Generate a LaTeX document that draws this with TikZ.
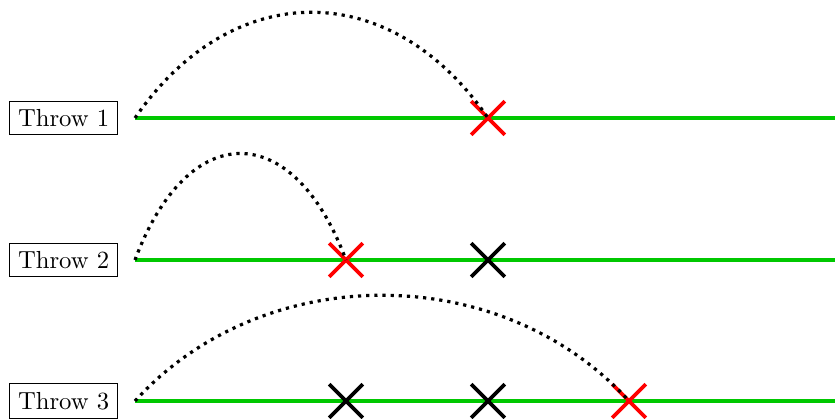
\documentclass[tikz,border=0pt]{standalone}
\usetikzlibrary{shapes.misc}
\definecolor{trackgreen}{RGB}{0,200,0}
\begin{document}
\begin{tikzpicture}[x=0.405pt,y=-0.405pt,
  track/.style={draw=trackgreen,line width=1.35pt},
  crossmark/.style={cross out,draw,line width=1.5pt,minimum size=12.15pt,inner sep=0pt},
  hit/.style={crossmark,draw=red},
  miss/.style={crossmark,draw=black},
  flight/.style={dotted,line width=1.3pt},
  throwtag/.style={draw,line width=0.4pt,inner sep=3.33pt,anchor=east}]
\useasboundingbox (0,0) rectangle (835,419);
% Throw 1
\coordinate (s1) at (135,118);
\coordinate (e1) at (835,118);
\node[throwtag] (t1) at (118,118) {Throw 1};
\draw[track] (s1) -- (e1);
\node[hit] (h1) at (488,118) {};
\draw[flight] (s1) .. controls +(97,-141) and +(-97,-141) .. (h1.center);
% Throw 2
\coordinate (s2) at (135,260);
\coordinate (e2) at (835,260);
\node[throwtag] (t2) at (118,260) {Throw 2};
\draw[track] (s2) -- (e2);
\node[hit] (h2) at (346,260) {};
\node[miss] (m21) at (488,260) {};
\draw[flight] (s2) .. controls +(53,-142) and +(-53,-142) .. (h2.center);
% Throw 3
\coordinate (s3) at (135,401);
\coordinate (e3) at (835,401);
\node[throwtag] (t3) at (118,401) {Throw 3};
\draw[track] (s3) -- (e3);
\node[miss] (m31) at (346,401) {};
\node[miss] (m32) at (488,401) {};
\node[hit] (h3) at (629,401) {};
\draw[flight] (s3) .. controls +(128,-141) and +(-128,-141) .. (h3.center);
\end{tikzpicture}
\end{document}
